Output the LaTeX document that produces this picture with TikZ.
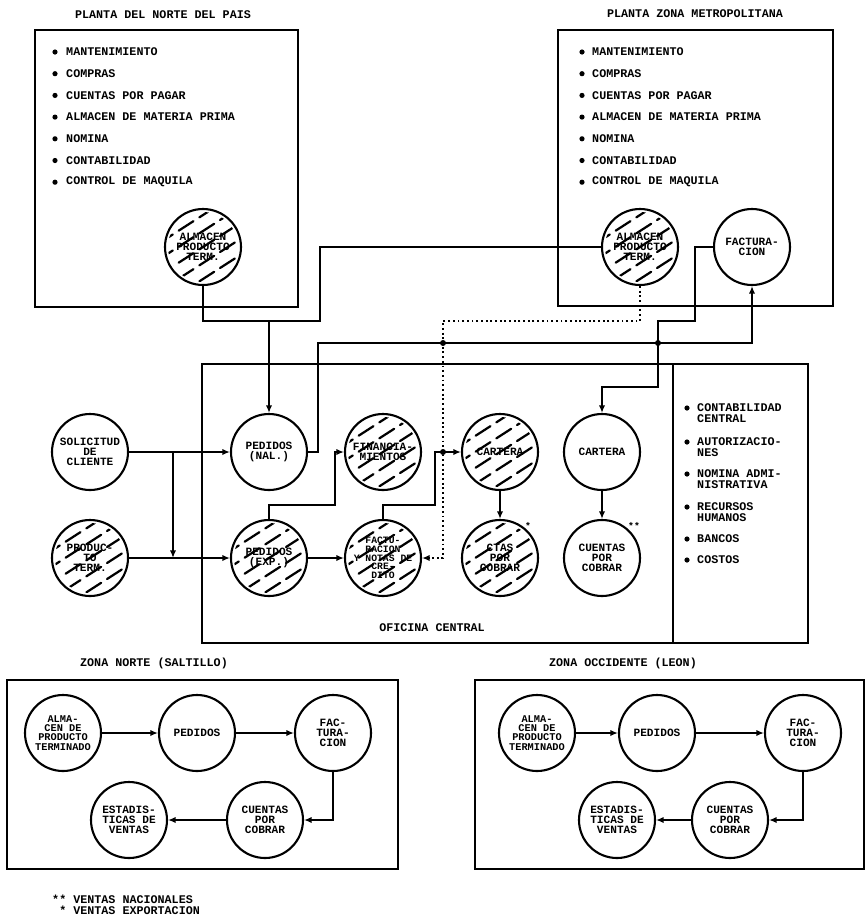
\documentclass[tikz,border=0pt]{standalone}
\usepackage{fontspec}
\setmonofont{Liberation Mono}
\usetikzlibrary{arrows.meta,calc,backgrounds}
\begin{document}
\begin{tikzpicture}[x=0.3mm,y=-0.3mm,
  every node/.style={font=\ttfamily\bfseries\fontsize{10}{9.4}\selectfont, inner sep=0pt},
  boxline/.style={draw, line width=1.4pt},
  circ/.style={draw, circle, line width=1.8pt, minimum size=22.8mm, align=center,
     font=\ttfamily\bfseries\fontsize{9.5}{8.6}\selectfont},
  small/.style={font=\ttfamily\bfseries\fontsize{8.3}{7.4}\selectfont},
  mid/.style={font=\ttfamily\bfseries\fontsize{8.8}{7.9}\selectfont},
  conn/.style={line width=1.3pt},
  arr/.style={conn, -{Latex[length=2.3mm,width=1.9mm]}},
  dotline/.style={line width=1.4pt, dash pattern=on 1.6pt off 2.4pt},
  hatchline/.style={line width=1.9pt, line cap=round, dash pattern=on 15pt off 6pt},
  item/.style={anchor=west, align=left},
  dotj/.style={fill, radius=3}
]
\useasboundingbox (0,0) rectangle (867,921);

% ---------- top boxes ----------
\node (t1) at (163,15) {PLANTA DEL NORTE DEL PAIS};
\node (t2) at (695,14) {PLANTA ZONA METROPOLITANA};
\draw[boxline] (35,30) rectangle (298,307);
\draw[boxline] (558,30) rectangle (833,306);
\foreach \t [count=\i from 0] in {MANTENIMIENTO,COMPRAS,CUENTAS POR PAGAR,ALMACEN DE MATERIA PRIMA,NOMINA,CONTABILIDAD,CONTROL DE MAQUILA}{
  \node[item] (a\i) at (66,52+21.7*\i) {\t};
  \fill ($(a\i.west)+(-11,0)$) circle[radius=2.6];
  \node[item] (b\i) at (592,52+21.7*\i) {\t};
  \fill ($(b\i.west)+(-10,0)$) circle[radius=2.6];
}
\node[circ] (alm1) at (203,247) {ALMACEN\\PRODUCTO\\TERM.};
\node[circ] (alm2) at (640,247) {ALMACEN\\PRODUCTO\\TERM.};
\node[circ] (fact) at (752,247) {FACTURA-\\CION};

% ---------- central office ----------
\draw[boxline] (202,364) rectangle (808,643);
\draw[boxline] (673,364) -- (673,643);
\node (ofc) at (432,628) {OFICINA CENTRAL};

\node[circ] (sol)   at (90,452)  {SOLICITUD\\DE\\CLIENTE};
\node[circ] (pedn)  at (269,452) {PEDIDOS\\(NAL.)};
\node[circ] (fin)   at (383,452) {FINANCIA-\\MIENTOS};
\node[circ] (cart1) at (500,452) {CARTERA};
\node[circ] (cart2) at (602,452) {CARTERA};
\node[circ] (pt)    at (90,558)  {PRODUC-\\TO\\TERM.};
\node[circ] (pede)  at (269,558) {PEDIDOS\\(EXP.)};
\node[circ,small] (factc) at (383,558) {FACTU-\\RACION\\Y NOTAS DE\\CRE-\\DITO};
\node[circ] (ctas)  at (500,558) {CTAS\\POR\\COBRAR};
\node[circ] (cxc)   at (602,558) {CUENTAS\\POR\\COBRAR};
\node[small] (s1) at (528,526) {*};
\node[small] (s2) at (634,526) {**};

\foreach \t/\y/\yb [count=\i] in {CONTABILIDAD\\CENTRAL/413.5/408, AUTORIZACIO-\\NES/447.5/442, NOMINA ADMI-\\NISTRATIVA/479.5/474, RECURSOS\\HUMANOS/512.5/507, BANCOS/539/539, COSTOS/560/560}{
  \node[item] (r\i) at (697,\y) {\t};
  \fill (687,\yb) circle[radius=2.6];
}

% hatching
\begin{pgfonlayer}{background}
\foreach \nm in {alm1,alm2,fin,cart1,pt,pede,factc,ctas}{
  \begin{scope}
    \clip (\nm.center) circle[radius=35];
    \foreach \k in {-48,-32,...,48}
      \draw[hatchline] ($(\nm.center)+(-45,\k+29)$) -- ($(\nm.center)+(45,\k-29)$);
  \end{scope}}
\end{pgfonlayer}

% connectors top / central
\coordinate (j1) at (269,321);
\draw[conn] (alm1.south) |- (320,321) |- (alm2.west);
\draw[arr] (j1) -- (pedn.north);
\draw[arr] (pedn.east) -| (318,343) -| (fact.south);
\draw[arr] (fact.west) -| (695,321) -| (658,387) -| (cart2.north);
\draw[dotline,-{Latex[length=2.3mm,width=1.9mm]}] (alm2.south) |- (443,321) |- (factc.east);
\fill[dotj] (443,343) circle;
\fill[dotj] (658,343) circle;
\fill[dotj] (443,452) circle;

\coordinate (j2) at (173,452);
\draw[arr] (sol) -- (pedn);
\draw[arr] (pt) -- (pede);
\draw[arr] (j2) -- (j2 |- pt);
\draw[arr] (pede.north) |- (335,505) |- (fin.west);
\draw[arr] (factc.north) |- (435,505) |- (cart1.west);
\draw[arr] (pede) -- (factc);
\draw[arr] (cart1) -- (ctas);
\draw[arr] (cart2) -- (cxc);

% ---------- bottom zones ----------
\node (t3) at (154,663) {ZONA NORTE (SALTILLO)};
\node (t4) at (623,663) {ZONA OCCIDENTE (LEON)};
\draw[boxline] (7,680) rectangle (398,869);
\draw[boxline] (475,680) rectangle (864,869);

\node[circ,mid] (nalm) at (63,733)  {ALMA-\\CEN DE\\PRODUCTO\\TERMINADO};
\node[circ] (nped) at (197,733) {PEDIDOS};
\node[circ] (nfac) at (333,733) {FAC-\\TURA-\\CION};
\node[circ] (nest) at (129,820) {ESTADIS-\\TICAS DE\\VENTAS};
\node[circ] (ncxc) at (265,820) {CUENTAS\\POR\\COBRAR};
\draw[arr] (nalm) -- (nped);
\draw[arr] (nped) -- (nfac);
\draw[arr] (nfac.south) |- (ncxc.east);
\draw[arr] (ncxc) -- (nest);

\node[circ,mid] (oalm) at (537,733)  {ALMA-\\CEN DE\\PRODUCTO\\TERMINADO};
\node[circ] (oped) at (657,733) {PEDIDOS};
\node[circ] (ofac) at (803,733) {FAC-\\TURA-\\CION};
\node[circ] (oest) at (617,820) {ESTADIS-\\TICAS DE\\VENTAS};
\node[circ] (ocxc) at (730,820) {CUENTAS\\POR\\COBRAR};
\draw[arr] (oalm) -- (oped);
\draw[arr] (oped) -- (ofac);
\draw[arr] (ofac.south) |- (ocxc.east);
\draw[arr] (ocxc) -- (oest);

% footnote
\node[item] (fn) at (52,905) {** VENTAS NACIONALES\\\phantom{*}* VENTAS EXPORTACION};
\end{tikzpicture}
\end{document}
